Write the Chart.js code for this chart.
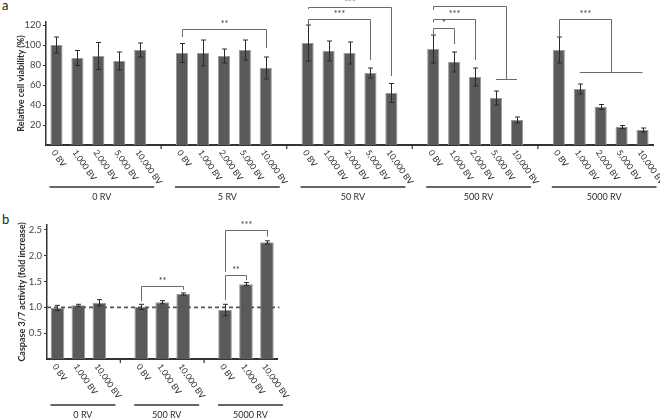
<!DOCTYPE html>
<html>
<head>
<meta charset="utf-8">
<script src="https://cdn.jsdelivr.net/npm/chart.js@4.4.0/dist/chart.umd.min.js"></script>
<style>
  body { margin: 0; background: #fff; width: 660px; height: 418px; overflow: hidden; position: relative; }
  .wrap { position: absolute; left: 0; }
  #wrapA { top: 0; width: 660px; height: 205px; }
  #wrapB { top: 200px; width: 300px; height: 218px; }
  .letter { position: absolute; left: 2px; font: 13px Lato, sans-serif; color: #222; }
</style>
</head>
<body>
<div class="letter" style="top:-3px">a</div>
<div class="letter" style="top:211px">b</div>
<div class="wrap" id="wrapA"><canvas id="viabilityChart"></canvas></div>
<div class="wrap" id="wrapB"><canvas id="caspaseChart"></canvas></div>
<script>
// ---- panel a: relative cell viability ----
const doseLabels = ["0 BV", "1,000 BV", "2,000 BV", "5,000 BV", "10,000 BV"];
const viabilityGroups = ["0 RV", "5 RV", "50 RV", "500 RV", "5000 RV"];
const viability = [
    [100, 87, 89, 84, 95],
    [92, 92, 89, 95, 77],
    [102, 94, 92, 72, 52],
    [96, 83, 68, 47, 25],
    [95, 56, 38, 18, 15]
];
const viabilityErr = [
    [8, 7.5, 13.5, 9, 7],
    [9.5, 13, 7, 10, 11],
    [18, 10, 11, 5, 9.5],
    [14, 10, 9, 7, 3],
    [13, 5, 2.5, 1.5, 2]
];
const viabilityTicks = [20, 40, 60, 80, 100, 120];
// significance: [from slot, to slot, bracket level, left leg end, right leg end, stars]
const viabilityBrackets = [
    [6, 10, 116, 108, 97, "**"],
    [12, 16, 138.5, 136, 69, "***"],
    [12, 15, 125.7, 120, 85, "***"],
    [18, 21.5, 139, 135, 66, "***"],
    [18, 20, 125.7, 122.7, 85, "***"],
    [18, 19, 116.7, 111, 101, "*"],
    [24, 26.5, 125.7, 108, 73, "***"]
];
// horizontal lines joining several bars under one bracket: [from slot, to slot, level]
const viabilityJoins = [[21, 22, 66], [25, 28, 73]];

// ---- panel b: caspase 3/7 activity ----
const caspaseDoses = ["0 BV", "1,000 BV", "10,000 BV"];
const caspaseGroups = ["0 RV", "500 RV", "5000 RV"];
const caspase = [
    [0.99, 1.04, 1.09],
    [1.01, 1.10, 1.26],
    [0.95, 1.45, 2.26]
];
const caspaseErr = [
    [0.05, 0.02, 0.06],
    [0.05, 0.03, 0.02],
    [0.11, 0.03, 0.03]
];
const caspaseTicks = [0.5, 1.0, 1.5, 2.0, 2.5];
const caspaseBaseline = 1.0;
const caspaseBrackets = [
    [4, 6, 1.415, 1.12, 1.34, "**"],
    [8, 10, 2.5, 1.69, 2.37, "***"],
    [8, 9, 1.63, 1.14, 1.53, "**"]
];

const FONT = "Lato, 'Open Sans', sans-serif";
const INK = "#333";

// lay groups out on one category axis, with an empty slot between groups
function flatten(groups, doses, values, errs) {
    const labels = [], data = [], err = [], spans = [], gaps = [];
    groups.forEach((g, gi) => {
        const start = labels.length;
        doses.forEach((d, di) => {
            labels.push(d);
            data.push(values[gi][di]);
            err.push(errs[gi][di]);
        });
        spans.push([start, labels.length - 1, g]);
        if (gi < groups.length - 1) {
            gaps.push(labels.length);
            labels.push("");
            data.push(null);
            err.push(null);
        }
    });
    return { labels, data, err, spans, gaps };
}

function figurePlugin(flat, opts) {
    return {
        id: "figureExtras",
        afterDatasetsDraw(chart) {
            const { ctx, chartArea } = chart;
            const xs = chart.scales.x, ys = chart.scales.y;
            const bottom = chartArea.bottom;
            ctx.save();

            if (opts.baseline != null) {
                const yb = ys.getPixelForValue(opts.baseline);
                ctx.strokeStyle = "#555";
                ctx.lineWidth = 1.6;
                ctx.setLineDash([4, 3]);
                ctx.beginPath();
                ctx.moveTo(chartArea.left, yb);
                ctx.lineTo(chartArea.right + 2, yb);
                ctx.stroke();
                ctx.setLineDash([]);
            }

            // error bars
            ctx.strokeStyle = "#2a2a2a";
            ctx.lineWidth = 1;
            flat.data.forEach((v, i) => {
                if (v == null) return;
                const x = Math.round(xs.getPixelForValue(i)) + 0.5;
                const hi = ys.getPixelForValue(v + flat.err[i]);
                const lo = ys.getPixelForValue(v - flat.err[i]);
                ctx.beginPath();
                ctx.moveTo(x, hi); ctx.lineTo(x, lo);
                ctx.moveTo(x - opts.cap, hi); ctx.lineTo(x + opts.cap, hi);
                ctx.moveTo(x - opts.cap, lo); ctx.lineTo(x + opts.cap, lo);
                ctx.stroke();
            });

            // significance brackets
            ctx.strokeStyle = "#6b6b6b";
            ctx.fillStyle = INK;
            ctx.lineWidth = 1;
            ctx.font = "9px " + FONT;
            ctx.textAlign = "center";
            ctx.textBaseline = "bottom";
            opts.brackets.forEach(([a, b, lvl, l1, l2, stars]) => {
                const xa = Math.round(xs.getPixelForValue(a)) + 0.5;
                const xb = Math.round(xs.getPixelForValue(b)) + 0.5;
                const y = Math.round(ys.getPixelForValue(lvl)) + 0.5;
                ctx.beginPath();
                ctx.moveTo(xa, ys.getPixelForValue(l1));
                ctx.lineTo(xa, y);
                ctx.lineTo(xb, y);
                ctx.lineTo(xb, ys.getPixelForValue(l2));
                ctx.stroke();
                ctx.fillText(stars, (xa + xb) / 2, y - 1);
            });
            (opts.joins || []).forEach(([a, b, lvl]) => {
                const y = Math.round(ys.getPixelForValue(lvl)) + 0.5;
                ctx.beginPath();
                ctx.moveTo(xs.getPixelForValue(a), y);
                ctx.lineTo(xs.getPixelForValue(b), y);
                ctx.stroke();
            });

            // small marks between groups
            ctx.strokeStyle = INK;
            ctx.lineWidth = 1.2;
            flat.gaps.forEach(i => {
                const x = xs.getPixelForValue(i);
                ctx.beginPath();
                ctx.moveTo(x, bottom); ctx.lineTo(x, bottom + 4);
                ctx.stroke();
            });

            // rotated dose labels
            ctx.fillStyle = "#2b2b2b";
            ctx.font = "8.5px " + FONT;
            ctx.textAlign = "left";
            ctx.textBaseline = "middle";
            flat.labels.forEach((lab, i) => {
                if (!lab) return;
                const x = xs.getPixelForValue(i);
                ctx.save();
                ctx.translate(x - 3, bottom + 6);
                ctx.rotate(55 * Math.PI / 180);
                ctx.fillText(lab, 0, 0);
                ctx.restore();
            });

            // group lines and names
            ctx.strokeStyle = INK;
            ctx.lineWidth = 1.5;
            ctx.font = "9px " + FONT;
            ctx.textAlign = "center";
            ctx.textBaseline = "middle";
            flat.spans.forEach(([s, e, name]) => {
                const x1 = xs.getPixelForValue(s) - 7;
                const x2 = xs.getPixelForValue(e) + opts.spanRight;
                const y = bottom + opts.groupLine;
                ctx.beginPath();
                ctx.moveTo(x1, y); ctx.lineTo(x2, y);
                ctx.stroke();
                ctx.fillText(name, (x1 + x2) / 2, y + 10);
            });

            // y axis title
            ctx.font = "bold 9px " + FONT;
            ctx.translate(opts.titleX, (chartArea.top + bottom) / 2 + opts.titleShift);
            ctx.rotate(-Math.PI / 2);
            ctx.fillText(opts.title, 0, 0);
            ctx.restore();
        }
    };
}

function makeChart(canvasId, flat, yOpts, barPct, padRight, padTop, xHeight, extras) {
    return new Chart(document.getElementById(canvasId), {
        type: "bar",
        data: {
            labels: flat.labels,
            datasets: [{
                data: flat.data,
                backgroundColor: "#5a5a5a",
                borderColor: "#9a9a9a",
                borderWidth: 1,
                barPercentage: barPct,
                categoryPercentage: 1
            }]
        },
        options: {
            responsive: true,
            maintainAspectRatio: false,
            animation: false,
            layout: { padding: { top: padTop, right: padRight, left: 0, bottom: 0 } },
            plugins: { legend: { display: false }, tooltip: { enabled: false } },
            scales: {
                x: {
                    ticks: { display: false },
                    grid: { display: false },
                    border: { color: INK, width: 2 },
                    afterFit: s => { s.height = xHeight; }
                },
                y: {
                    min: 0,
                    max: yOpts.max,
                    afterFit: s => { s.width = yOpts.width; },
                    afterBuildTicks: s => { s.ticks = yOpts.ticks.map(v => ({ value: v })); },
                    ticks: {
                        color: "#444",
                        padding: 2,
                        font: { family: FONT, size: 9.5 },
                        callback: v => yOpts.format(v)
                    },
                    grid: { drawOnChartArea: false, tickLength: 3, color: INK, lineWidth: 1 },
                    border: { color: INK, width: 1.5 }
                }
            }
        },
        plugins: [figurePlugin(flat, extras)]
    });
}

const flatA = flatten(viabilityGroups, doseLabels, viability, viabilityErr);
makeChart("viabilityChart", flatA,
    { max: 123, width: 46, ticks: viabilityTicks, format: v => String(v) },
    0.58, 7, 22, 60,
    { cap: 2.5, brackets: viabilityBrackets, joins: viabilityJoins, spanRight: 14,
      groupLine: 42, title: "Relative cell viability (%)", titleX: 21, titleShift: 0 });

const flatB = flatten(caspaseGroups, caspaseDoses, caspase, caspaseErr);
makeChart("caspaseChart", flatB,
    { max: 2.6, width: 47, ticks: caspaseTicks, format: v => v.toFixed(1) },
    0.65, 22.6, 24.8, 59,
    { cap: 2.5, brackets: caspaseBrackets, baseline: caspaseBaseline, spanRight: 16,
      groupLine: 46, title: "Caspase 3/7 activity (fold increase)", titleX: 22, titleShift: 0 });
</script>
</body>
</html>
